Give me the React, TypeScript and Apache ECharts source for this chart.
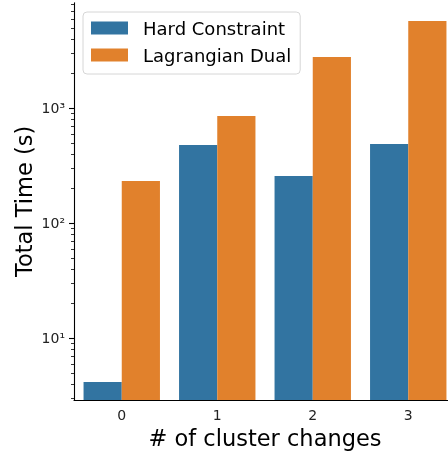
import React, { useEffect, useRef } from "react";
import * as echarts from "echarts";

const categories = ["0", "1", "2", "3"];
const hardConstraint = [4.17, 480, 258, 490];
const lagrangianDual = [233, 858, 2795, 5740];
const majorTicks = [10, 100, 1000];
const minorTicks = [3, 4, 5, 6, 7, 8, 9, 20, 30, 40, 50, 60, 70, 80, 90, 200, 300, 400, 500, 600, 700, 800, 900, 2000, 3000, 4000, 5000, 6000, 7000, 8000];
const yMin = 2.908;
const yMax = 8280;

const FONT = "DejaVu Sans";
const SUP: Record<string, string> = { "0": "⁰", "1": "¹", "2": "²", "3": "³", "4": "⁴" };

export default function App() {
  const ref = useRef<HTMLDivElement>(null);
  useEffect(() => {
    if (!ref.current) return;
    const chart = echarts.init(ref.current, null, { renderer: "svg" });
    chart.setOption({
      animation: false,
      textStyle: { fontFamily: FONT },
      legend: {
        orient: "vertical",
        left: 83,
        top: 12,
        icon: "rect",
        itemWidth: 37,
        itemHeight: 13,
        itemGap: 7,
        padding: [6, 9, 9, 8],
        borderColor: "#d6d6d6",
        borderWidth: 1,
        borderRadius: 4,
        backgroundColor: "rgba(255,255,255,0.8)",
        textStyle: { fontSize: 18, color: "#000", fontFamily: FONT, lineHeight: 20, padding: [0, 0, 0, 10] },
        data: ["Hard Constraint", "Lagrangian Dual"],
      },
      grid: { left: 74, right: -8, top: 2.7, bottom: 53, outerBoundsMode: "none" },
      xAxis: {
        type: "category",
        data: categories,
        name: "# of cluster changes",
        nameLocation: "middle",
        nameGap: 26,
        nameMoveOverlap: false,
        nameTextStyle: { fontSize: 22.5, color: "#000", fontFamily: FONT },
        axisLine: { lineStyle: { color: "#000", width: 1.1 } },
        axisTick: { alignWithLabel: true, length: 5, lineStyle: { color: "#000", width: 1.1 } },
        axisLabel: { fontSize: 14, color: "#222", margin: 8, fontFamily: FONT },
      },
      yAxis: [
        {
          type: "log",
          logBase: 10,
          min: yMin,
          max: yMax,
          name: "Total Time (s)",
          nameLocation: "middle",
          nameGap: 39,
          nameMoveOverlap: false,
          nameTextStyle: { fontSize: 22.5, color: "#000", fontFamily: FONT },
          axisLine: { show: true, lineStyle: { color: "#000", width: 1.1 } },
          axisTick: { show: true, length: 5, customValues: majorTicks, lineStyle: { color: "#000", width: 1.1 } },
          axisLabel: {
            fontSize: 14,
            color: "#222",
            margin: 9,
            fontFamily: FONT,
            customValues: majorTicks,
            formatter: (v: number) => {
              const e = Math.round(Math.log10(v));
              return "10" + String(e).split("").map((d) => SUP[d] ?? d).join("");
            },
          },
          splitLine: { show: false },
        },
        {
          type: "log",
          logBase: 10,
          min: yMin,
          max: yMax,
          position: "left",
          axisLine: { show: false },
          axisTick: { show: true, length: 3, customValues: minorTicks, lineStyle: { color: "#000", width: 0.8 } },
          axisLabel: { show: false },
          splitLine: { show: false },
        },
      ],
      series: [
        {
          name: "Hard Constraint",
          type: "bar",
          data: hardConstraint,
          yAxisIndex: 0,
          barGap: "0%",
          barCategoryGap: "20%",
          clip: true,
          itemStyle: { color: "#3274a1" },
        },
        {
          name: "Lagrangian Dual",
          type: "bar",
          data: lagrangianDual,
          yAxisIndex: 0,
          barGap: "0%",
          barCategoryGap: "20%",
          clip: true,
          itemStyle: { color: "#e1812c" },
        },
      ],
    });
    return () => chart.dispose();
  }, []);
  return <div ref={ref} style={{ position: "fixed", left: 0, top: 0, width: 448, height: 453 }} />;
}
